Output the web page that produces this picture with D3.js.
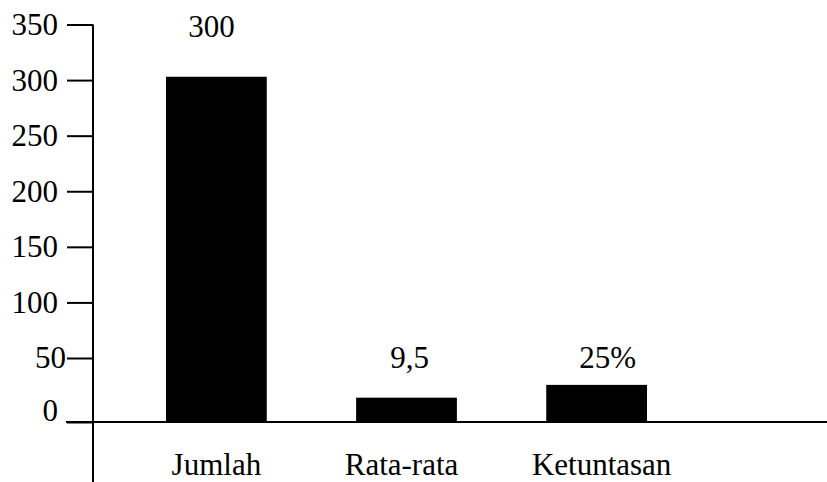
<!DOCTYPE html>
<html lang="en">
<head>
  <meta charset="UTF-8">
  <title>Jumlah / Rata-rata / Ketuntasan</title>
  <style>
    body { margin: 0; padding: 0; background: #fff; }
    svg { display: block; }
    svg text { font-family: "Liberation Serif", "Times New Roman", Times, serif; font-size: 31px; fill: #000; }
  </style>
</head>
<body>
  <div class="chart"></div>

  <script src="https://cdnjs.cloudflare.com/ajax/libs/d3/7.8.5/d3.min.js"></script>
  <script>
    'use strict';

    // data
    const categories = ['Jumlah', 'Rata-rata', 'Ketuntasan'];
    const barValues = [303, 19, 29];          // bar heights
    const valueLabels = ['300', '9,5', '25%'];
    const yTicks = [0, 50, 100, 150, 200, 250, 300, 350];

    const w = 827, h = 482;
    const axisX = 93, zeroY = 422;
    const serif = '"Liberation Serif", "Times New Roman", Times, serif';

    const svg = d3.select('.chart').append('svg')
      .attr('width', w)
      .attr('height', h)
      .attr('font-family', serif);

    // the original axis is not evenly spaced below 50
    const y = d3.scaleLinear()
      .domain([0, 50, 350])
      .range([zeroY, 358, 24.5]);

    const x = d3.scaleBand()
      .domain(categories)
      .range([166, 647])
      .paddingInner(0.47);

    // bars
    svg.selectAll('.bar')
      .data(barValues)
      .enter().append('rect')
      .attr('class', 'bar')
      .attr('x', (d, i) => x(categories[i]))
      .attr('width', x.bandwidth())
      .attr('y', d => y(d))
      .attr('height', d => zeroY - y(d))
      .attr('fill', '#000');

    // y axis
    const yAxis = svg.append('g')
      .attr('transform', `translate(${axisX},0)`)
      .call(d3.axisLeft(y).tickValues(yTicks).tickSize(26).tickPadding(8).tickFormat(d3.format('d')));

    yAxis.attr('font-family', serif).attr('font-size', 31);
    yAxis.select('.domain').remove();
    yAxis.selectAll('.tick line').attr('stroke', '#000').attr('stroke-width', 2);
    yAxis.selectAll('.tick text')
      .attr('dy', d => d === 0 ? '-0.05em' : '0.32em')
      .attr('x', d => d === 50 ? -27 : -35);

    // vertical axis line runs past the baseline
    svg.append('line')
      .attr('x1', axisX).attr('x2', axisX)
      .attr('y1', y(350)).attr('y2', h)
      .attr('stroke', '#000').attr('stroke-width', 2);

    // horizontal baseline
    svg.append('line')
      .attr('x1', 66).attr('x2', w)
      .attr('y1', zeroY).attr('y2', zeroY)
      .attr('stroke', '#000').attr('stroke-width', 2);

    // value labels above the bars
    const labelY = [37, 368, 368];
    const labelShift = [-5, 3, 11];
    svg.selectAll('.val')
      .data(valueLabels)
      .enter().append('text')
      .attr('class', 'val')
      .attr('text-anchor', 'middle')
      .attr('x', (d, i) => x(categories[i]) + x.bandwidth() / 2 + labelShift[i])
      .attr('y', (d, i) => labelY[i])
      .text(d => d);

    // category labels
    const catShift = [0, -5, 5];
    svg.selectAll('.cat')
      .data(categories)
      .enter().append('text')
      .attr('class', 'cat')
      .attr('text-anchor', 'middle')
      .attr('x', (d, i) => x(d) + x.bandwidth() / 2 + catShift[i])
      .attr('y', 475)
      .text(d => d);
  </script>
</body>
</html>
